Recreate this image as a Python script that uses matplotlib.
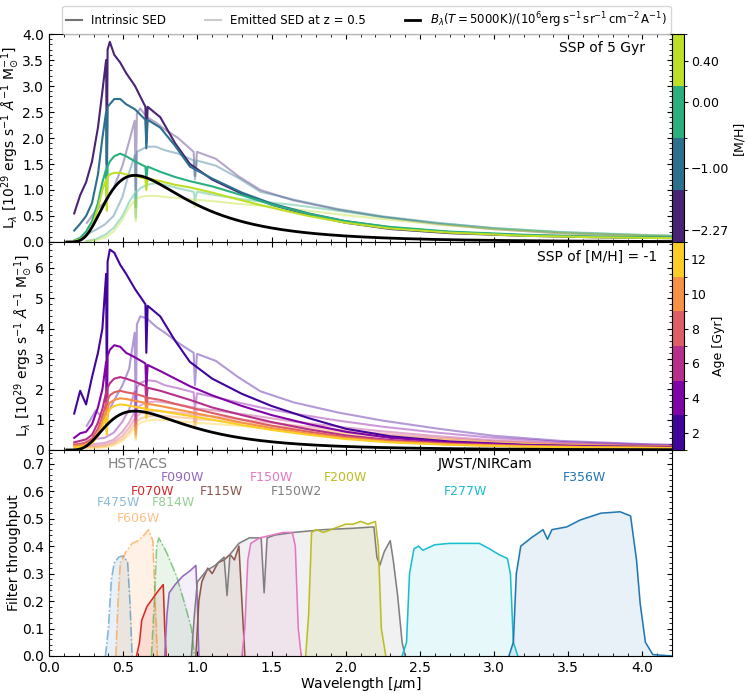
import numpy as np
import matplotlib.pyplot as plt
from matplotlib.colors import ListedColormap, BoundaryNorm
from matplotlib.cm import ScalarMappable
from matplotlib.lines import Line2D
from matplotlib.ticker import AutoMinorLocator, MultipleLocator

# rest-frame wavelength of the SSP spectra [micron]
wave = [0.17, 0.21, 0.25, 0.29, 0.33, 0.36, 0.385, 0.39, 0.395, 0.41, 0.44, 0.48,
        0.52, 0.58, 0.65, 0.656, 0.665, 0.75, 0.85, 0.95, 1.1, 1.3, 1.5, 1.75,
        2.0, 2.3, 2.7, 3.2, 3.7, 4.3]

# SSP of 5 Gyr, one spectrum per [M/H]  (10^29 erg/s/A/Msun)
mh_values = [-2.27, -1.00, 0.00, 0.40]
sed_mh_m227 = [0.55, 0.9, 1.15, 1.55, 2.2, 2.9, 3.5, 1.5, 3.7, 3.85, 3.6, 3.45,
               3.25, 3.0, 2.6, 1.9, 2.6, 2.4, 1.9, 1.5, 1.2, 0.93, 0.72, 0.52,
               0.37, 0.25, 0.17, 0.12, 0.09, 0.07]
sed_mh_m100 = [0.22, 0.35, 0.5, 0.75, 1.3, 2.0, 2.5, 1.0, 2.6, 2.65, 2.75, 2.75,
               2.65, 2.55, 2.35, 1.8, 2.35, 2.2, 1.85, 1.45, 1.22, 0.95, 0.74, 0.55,
               0.4, 0.28, 0.19, 0.13, 0.1, 0.08]
sed_mh_p000 = [0.03, 0.08, 0.2, 0.4, 0.75, 1.15, 1.4, 0.7, 1.45, 1.55, 1.65, 1.7,
               1.65, 1.55, 1.45, 1.2, 1.45, 1.35, 1.25, 1.17, 1.07, 0.9, 0.72, 0.54,
               0.4, 0.29, 0.2, 0.14, 0.1, 0.08]
sed_mh_p040 = [0.02, 0.05, 0.12, 0.3, 0.65, 1.0, 1.2, 0.6, 1.25, 1.3, 1.33, 1.33,
               1.3, 1.27, 1.22, 1.0, 1.22, 1.17, 1.1, 1.05, 0.95, 0.8, 0.66, 0.5,
               0.37, 0.26, 0.18, 0.12, 0.09, 0.07]

# SSP of [M/H] = -1, one spectrum per age [Gyr]
ages = [2, 4, 6, 8, 10, 12]
sed_age_02 = [1.2, 1.95, 1.5, 2.4, 3.2, 4.0, 5.8, 1.5, 6.2, 6.6, 6.5, 6.1,
              5.8, 5.3, 4.8, 3.2, 4.75, 4.4, 3.6, 2.9, 2.35, 1.85, 1.45, 1.05,
              0.7, 0.45, 0.28, 0.17, 0.12, 0.09]
sed_age_04 = [0.4, 0.55, 0.6, 0.85, 1.4, 2.0, 2.9, 1.0, 3.1, 3.3, 3.45, 3.4,
              3.2, 3.05, 2.85, 2.0, 2.8, 2.6, 2.35, 2.1, 1.8, 1.45, 1.15, 0.85,
              0.6, 0.4, 0.26, 0.16, 0.11, 0.08]
sed_age_06 = [0.25, 0.3, 0.35, 0.5, 0.9, 1.35, 1.9, 0.8, 2.05, 2.2, 2.35, 2.4,
              2.35, 2.25, 2.1, 1.6, 2.05, 1.95, 1.8, 1.65, 1.4, 1.15, 0.92, 0.68,
              0.48, 0.33, 0.22, 0.14, 0.1, 0.07]
sed_age_08 = [0.18, 0.2, 0.25, 0.38, 0.7, 1.1, 1.55, 0.7, 1.65, 1.8, 1.9, 1.95,
              1.9, 1.85, 1.75, 1.35, 1.72, 1.65, 1.52, 1.4, 1.22, 1.0, 0.8, 0.6,
              0.43, 0.3, 0.2, 0.13, 0.09, 0.07]
sed_age_10 = [0.13, 0.15, 0.18, 0.3, 0.55, 0.9, 1.3, 0.6, 1.4, 1.55, 1.65, 1.7,
              1.68, 1.62, 1.55, 1.2, 1.52, 1.45, 1.35, 1.25, 1.1, 0.9, 0.72, 0.54,
              0.39, 0.27, 0.18, 0.12, 0.09, 0.06]
sed_age_12 = [0.08, 0.1, 0.13, 0.22, 0.45, 0.75, 1.1, 0.5, 1.2, 1.35, 1.45, 1.5,
              1.48, 1.42, 1.36, 1.05, 1.34, 1.28, 1.2, 1.12, 1.0, 0.82, 0.66, 0.5,
              0.36, 0.25, 0.17, 0.11, 0.08, 0.06]

z_obs = 0.5
T_bb = 5000.0

# filter throughputs (wavelength in micron)
f475w_wl = [0.38, 0.40, 0.42, 0.44, 0.47, 0.50, 0.53, 0.545, 0.56]
f475w_thr = [0.0, 0.10, 0.28, 0.34, 0.36, 0.365, 0.34, 0.20, 0.0]
f606w_wl = [0.45, 0.465, 0.48, 0.52, 0.56, 0.60, 0.64, 0.67, 0.70, 0.715, 0.73]
f606w_thr = [0.0, 0.2, 0.34, 0.38, 0.41, 0.42, 0.44, 0.46, 0.42, 0.2, 0.0]
f814w_wl = [0.69, 0.71, 0.725, 0.74, 0.79, 0.86, 0.92, 0.96, 0.98]
f814w_thr = [0.0, 0.2, 0.40, 0.43, 0.38, 0.29, 0.18, 0.10, 0.0]
f070w_wl = [0.59, 0.61, 0.625, 0.66, 0.70, 0.74, 0.77, 0.78, 0.79]
f070w_thr = [0.0, 0.05, 0.13, 0.18, 0.21, 0.24, 0.26, 0.1, 0.0]
f090w_wl = [0.78, 0.795, 0.81, 0.85, 0.90, 0.95, 0.99, 1.0, 1.01]
f090w_thr = [0.0, 0.15, 0.23, 0.26, 0.29, 0.31, 0.33, 0.2, 0.0]
f115w_wl = [0.99, 1.01, 1.03, 1.07, 1.10, 1.14, 1.18, 1.22, 1.25, 1.28, 1.30, 1.32]
f115w_thr = [0.0, 0.2, 0.27, 0.32, 0.30, 0.34, 0.35, 0.37, 0.35, 0.40, 0.2, 0.0]
f150w2_wl = [0.96, 0.98, 1.0, 1.06, 1.12, 1.18, 1.20, 1.22, 1.28, 1.35, 1.43, 1.45,
             1.47, 1.52, 1.65, 1.85, 2.05, 2.19, 2.21, 2.23, 2.26, 2.30, 2.32,
             2.35, 2.38, 2.40]
f150w2_thr = [0.0, 0.15, 0.27, 0.31, 0.33, 0.36, 0.22, 0.37, 0.41, 0.43, 0.43, 0.23,
              0.43, 0.44, 0.45, 0.46, 0.465, 0.47, 0.36, 0.33, 0.38, 0.42, 0.35,
              0.22, 0.05, 0.0]
f150w_wl = [1.30, 1.32, 1.34, 1.36, 1.42, 1.50, 1.58, 1.64, 1.66, 1.68, 1.70]
f150w_thr = [0.0, 0.1, 0.35, 0.41, 0.43, 0.44, 0.45, 0.45, 0.40, 0.1, 0.0]
f200w_wl = [1.73, 1.75, 1.77, 1.80, 1.85, 1.90, 1.95, 2.0, 2.05, 2.10, 2.15, 2.2,
            2.22, 2.24, 2.27]
f200w_thr = [0.0, 0.15, 0.45, 0.46, 0.45, 0.46, 0.47, 0.48, 0.48, 0.49, 0.48, 0.49,
             0.4, 0.1, 0.0]
f277w_wl = [2.38, 2.41, 2.43, 2.46, 2.49, 2.52, 2.6, 2.7, 2.8, 2.9, 2.97, 3.03,
            3.09, 3.11, 3.13, 3.16]
f277w_thr = [0.0, 0.05, 0.3, 0.39, 0.40, 0.385, 0.405, 0.41, 0.41, 0.41, 0.39, 0.37,
             0.355, 0.3, 0.05, 0.0]
f356w_wl = [3.10, 3.13, 3.15, 3.18, 3.25, 3.33, 3.36, 3.39, 3.49, 3.58, 3.72, 3.85,
            3.92, 3.96, 3.985, 4.02, 4.07, 4.2]
f356w_thr = [0.0, 0.05, 0.3, 0.40, 0.43, 0.46, 0.425, 0.46, 0.47, 0.495, 0.52,
             0.525, 0.51, 0.35, 0.19, 0.05, 0.005, 0.0]

hst_filters = [('F475W', f475w_wl, f475w_thr, 'tab:blue'),
               ('F606W', f606w_wl, f606w_thr, 'tab:orange'),
               ('F814W', f814w_wl, f814w_thr, 'tab:green')]
jwst_filters = [('F070W', f070w_wl, f070w_thr, 'tab:red'),
                ('F090W', f090w_wl, f090w_thr, 'tab:purple'),
                ('F115W', f115w_wl, f115w_thr, 'tab:brown'),
                ('F150W2', f150w2_wl, f150w2_thr, 'tab:gray'),
                ('F150W', f150w_wl, f150w_thr, 'tab:pink'),
                ('F200W', f200w_wl, f200w_thr, 'tab:olive'),
                ('F277W', f277w_wl, f277w_thr, 'tab:cyan'),
                ('F356W', f356w_wl, f356w_thr, 'tab:blue')]

# where the filter names go (data coords of bottom panel)
label_pos = {'F475W': (0.47, 0.56), 'F606W': (0.60, 0.50), 'F814W': (0.84, 0.56),
             'F070W': (0.70, 0.60), 'F090W': (0.90, 0.65), 'F115W': (1.16, 0.60),
             'F150W2': (1.67, 0.60), 'F150W': (1.50, 0.65), 'F200W': (2.00, 0.65),
             'F277W': (2.81, 0.60), 'F356W': (3.61, 0.65)}


def planck(lam_um, T):
    # B_lambda in erg s^-1 sr^-1 cm^-2 A^-1, scaled by 1e-6
    lam = lam_um * 1e-4
    h, c, k = 6.626e-27, 2.998e10, 1.381e-16
    b = 2 * h * c**2 / lam**5 / (np.exp(h * c / (lam * k * T)) - 1)
    return b * 1e-8 / 1e6


def style_axis(ax):
    ax.tick_params(which='both', direction='in', top=True, right=True, labelsize=10)
    ax.xaxis.set_minor_locator(MultipleLocator(0.1))
    ax.yaxis.set_minor_locator(AutoMinorLocator())


fig = plt.figure(figsize=(7.48, 6.94), dpi=100)
ax1 = fig.add_axes([0.0655, 0.6513, 0.833, 0.2997])
ax2 = fig.add_axes([0.0655, 0.3516, 0.833, 0.2997])
ax3 = fig.add_axes([0.0655, 0.0548, 0.833, 0.2968])
cax1 = fig.add_axes([0.8984, 0.6513, 0.016, 0.2997])
cax2 = fig.add_axes([0.8984, 0.3516, 0.016, 0.2997])

wave = np.array(wave)
lam_bb = np.linspace(0.12, 4.3, 400)
bb = planck(lam_bb, T_bb)

mh_colors = plt.cm.viridis(np.linspace(0.1, 0.9, len(mh_values)))
age_colors = plt.cm.plasma(np.linspace(0.1, 0.9, len(ages)))

mh_seds = [sed_mh_m227, sed_mh_m100, sed_mh_p000, sed_mh_p040]
age_seds = [sed_age_02, sed_age_04, sed_age_06, sed_age_08, sed_age_10, sed_age_12]

for ax, seds, colors in [(ax1, mh_seds, mh_colors), (ax2, age_seds, age_colors)]:
    for sed, col in zip(seds, colors):
        ax.plot(wave * (1 + z_obs), np.array(sed) / (1 + z_obs), color=col,
                lw=1.5, alpha=0.4)
    for sed, col in zip(seds, colors):
        ax.plot(wave, sed, color=col, lw=1.5)
    ax.plot(lam_bb, bb, color='k', lw=2)
    ax.set_xlim(0, 4.2)
    ax.set_ylabel(r'L$_\lambda$ [10$^{29}$ ergs s$^{-1}$ $\AA^{-1}$ M$_{\odot}^{-1}$]',
                  fontsize=10, labelpad=1)
    style_axis(ax)
    ax.tick_params(labelbottom=False)

ax1.set_ylim(0, 4.0)
ax1.yaxis.set_major_locator(MultipleLocator(0.5))
ax2.set_ylim(0, 6.85)
ax2.yaxis.set_major_locator(MultipleLocator(1))
ax1.text(0.957, 0.933, 'SSP of 5 Gyr', transform=ax1.transAxes, ha='right',
         va='center', fontsize=10)
ax2.text(0.977, 0.928, 'SSP of [M/H] = -1', transform=ax2.transAxes, ha='right',
         va='center', fontsize=10)

# filters
for name, wl, thr, col in hst_filters:
    ax3.plot(wl, thr, color=col, ls='-.', lw=1.1, alpha=0.5)
    ax3.fill_between(wl, thr, color=col, alpha=0.1)
    ax3.text(*label_pos[name], name, color=col, alpha=0.5, ha='center',
             va='center', fontsize=9)
for name, wl, thr, col in jwst_filters:
    ax3.plot(wl, thr, color=col, lw=1.1)
    ax3.fill_between(wl, thr, color=col, alpha=0.1)
    ax3.text(*label_pos[name], name, color=col, ha='center', va='center', fontsize=9)
ax3.text(0.60, 0.70, 'HST/ACS', color='tab:gray', ha='center', va='center',
         fontsize=10)
ax3.text(2.94, 0.70, 'JWST/NIRCam', color='k', ha='center', va='center',
         fontsize=10)
ax3.set_xlim(0, 4.2)
ax3.set_ylim(0, 0.75)
ax3.yaxis.set_major_locator(MultipleLocator(0.1))
style_axis(ax3)
ax3.set_xlabel(r'Wavelength [$\mu$m]', fontsize=10, labelpad=0)
ax3.set_ylabel('Filter throughput', fontsize=10, labelpad=1)

# colorbars
mh_tick_pos = [0.23, 1.43, 2.70, 3.48]
cmap_mh = ListedColormap(mh_colors)
norm_mh = BoundaryNorm(np.arange(len(mh_values) + 1), len(mh_values))
cb1 = fig.colorbar(ScalarMappable(norm=norm_mh, cmap=cmap_mh), cax=cax1)
cb1.set_ticks(mh_tick_pos)
cb1.set_ticklabels([f'{v:.2f}'.replace('-', '\u2212') for v in mh_values])
cb1.ax.tick_params(labelsize=9, length=3, pad=2)
cb1.set_label('[M/H]', fontsize=9, labelpad=2)

cmap_age = ListedColormap(age_colors)
age_bounds = [a - 1 for a in ages] + [ages[-1] + 1]
norm_age = BoundaryNorm(age_bounds, len(ages))
cb2 = fig.colorbar(ScalarMappable(norm=norm_age, cmap=cmap_age), cax=cax2)
cb2.set_ticks(ages)
cb2.ax.tick_params(labelsize=9, length=3, pad=2)
cb2.set_label('Age [Gyr]', fontsize=9, labelpad=4)

handles = [Line2D([], [], color='0.45', lw=1.5),
           Line2D([], [], color='0.8', lw=1.5),
           Line2D([], [], color='k', lw=2)]
labels = ['Intrinsic SED', 'Emitted SED at z = 0.5',
          r'$B_\lambda(T = 5000{\rm K})/(10^6{\rm erg\,s^{-1}\,sr^{-1}\,cm^{-2}\,A^{-1}})$']
fig.legend(handles, labels, loc='upper center', bbox_to_anchor=(0.49, 1.0),
           ncol=3, fontsize=8.5, columnspacing=3.3, handlelength=1.3,
           handletextpad=0.8, borderpad=0.35)

fig.savefig('out.png', dpi=100)
